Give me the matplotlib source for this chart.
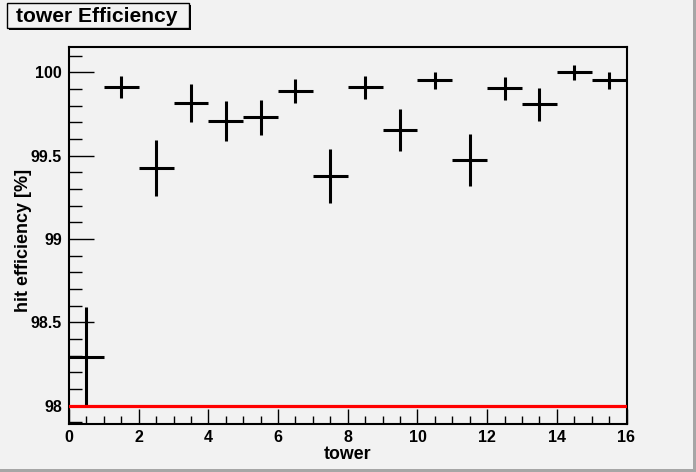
import matplotlib
matplotlib.use("Agg")
import matplotlib.pyplot as plt
from matplotlib.patches import Rectangle
from matplotlib.ticker import MultipleLocator, FixedLocator

# data
towers = [0.5, 1.5, 2.5, 3.5, 4.5, 5.5, 6.5, 7.5, 8.5, 9.5, 10.5, 11.5, 12.5, 13.5, 14.5, 15.5]
efficiency = [98.29, 99.91, 99.427, 99.816, 99.708, 99.73, 99.886, 99.377,
              99.91, 99.653, 99.952, 99.473, 99.904, 99.808, 100.0, 99.952]
eff_err = [0.30, 0.065, 0.167, 0.113, 0.122, 0.105, 0.071, 0.164,
           0.068, 0.125, 0.05, 0.155, 0.069, 0.10, 0.044, 0.05]
bin_half_width = 0.5
threshold = 98.0
y_ticks = [98, 98.5, 99, 99.5, 100]
y_tick_labels = ["98", "98.5", "99", "99.5", "100"]
x_ticks = [0, 2, 4, 6, 8, 10, 12, 14, 16]

plt.rcParams['font.family'] = ['Liberation Sans', 'DejaVu Sans']
plt.rcParams['font.weight'] = 'bold'

W, H = 696, 472
bg = '#f2f2f2'
fig = plt.figure(figsize=(W / 100, H / 100), dpi=100, facecolor=bg)

ax = fig.add_axes([69 / W, 1 - 424 / H, (626.5 - 69) / W, (424 - 46.7) / H])
ax.set_facecolor(bg)

ax.errorbar(towers, efficiency, yerr=eff_err, xerr=bin_half_width, fmt='none',
            ecolor='black', elinewidth=2.2, capsize=0, zorder=3)
ax.axhline(threshold, color='#ff0000', lw=2.3, zorder=4)

ax.set_xlim(0, 16)
ax.set_ylim(97.89, 100.153)

ax.yaxis.set_major_locator(FixedLocator(y_ticks))
ax.set_yticklabels(y_tick_labels)
ax.yaxis.set_minor_locator(MultipleLocator(0.1))
ax.xaxis.set_major_locator(FixedLocator(x_ticks))
ax.xaxis.set_minor_locator(MultipleLocator(0.5))

ax.tick_params(axis='both', which='both', direction='in', top=False, right=False,
               width=1, color='black', labelsize=11.5)
ax.tick_params(axis='y', which='major', length=18, pad=5)
ax.tick_params(axis='y', which='minor', length=9)
ax.tick_params(axis='x', which='major', length=11, pad=4)
ax.tick_params(axis='x', which='minor', length=5.5)
for lab in ax.get_xticklabels() + ax.get_yticklabels():
    lab.set_fontweight('bold')

for sp in ax.spines.values():
    sp.set_linewidth(1.5)
    sp.set_color('black')

ax.set_xlabel('tower', fontsize=12.8, fontweight='bold', labelpad=1)
ax.set_ylabel('hit efficiency [%]', fontsize=13, fontweight='bold')
ax.yaxis.set_label_coords((32 - 69) / (626.5 - 69), (424 - 240) / (424 - 46.7))

# title box with shadow (ROOT style)
x0, y0, x1, y1 = 7, 3, 189, 28
fig.patches.append(Rectangle((x0 / W + 2 / W, 1 - (y1 + 2) / H), (x1 - x0) / W, (y1 - y0) / H,
                             transform=fig.transFigure, facecolor='black', edgecolor='none', zorder=1))
fig.patches.append(Rectangle((x0 / W, 1 - y1 / H), (x1 - x0) / W, (y1 - y0) / H,
                             transform=fig.transFigure, facecolor=bg, edgecolor='black',
                             lw=1, zorder=2))
fig.text(16.5 / W, 1 - 16.5 / H, 'tower Efficiency', fontsize=15.1, fontweight='bold',
         va='center', ha='left', zorder=3)

# canvas bevel (right / bottom gray border)
fig.patches.append(Rectangle((1 - 3 / W, 0), 3 / W, 1, transform=fig.transFigure,
                             facecolor='#a6a6a6', edgecolor='none', zorder=0))
fig.patches.append(Rectangle((0, 0), 1, 3 / H, transform=fig.transFigure,
                             facecolor='#a6a6a6', edgecolor='none', zorder=0))

fig.savefig('out.png', dpi=100, facecolor=bg)
